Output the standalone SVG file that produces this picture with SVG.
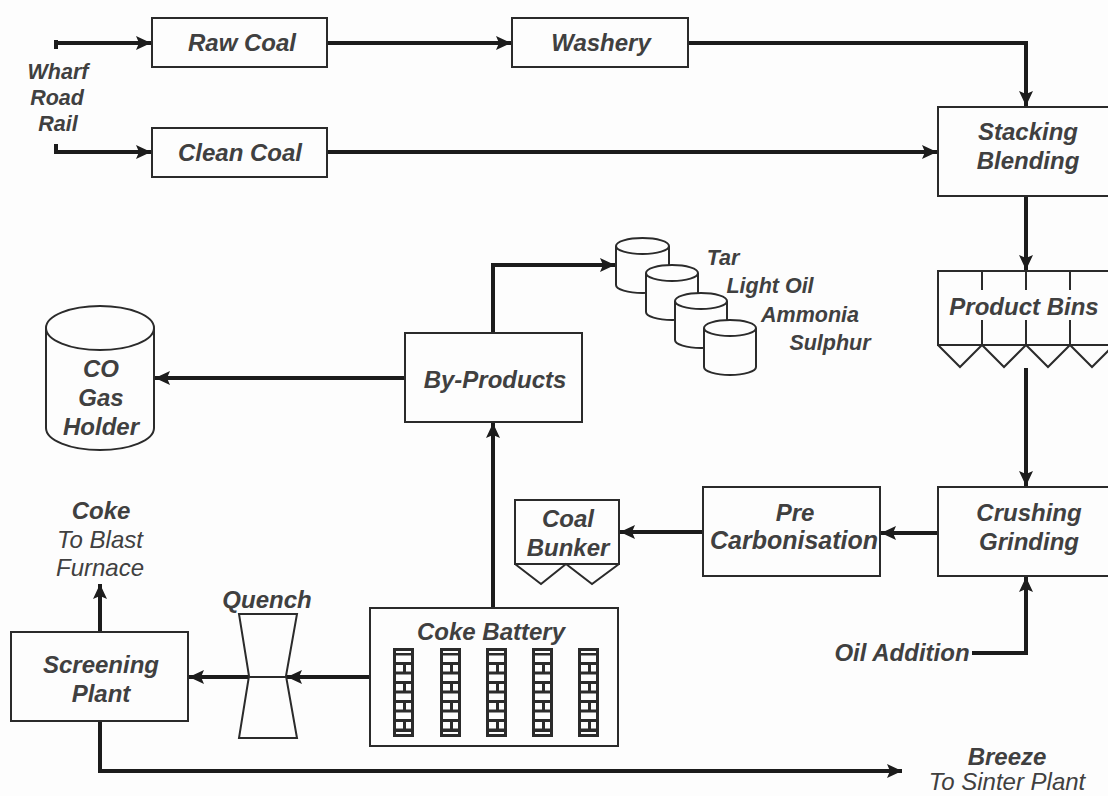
<svg xmlns="http://www.w3.org/2000/svg" width="1108" height="796" viewBox="0 0 1108 796">
<style>
.s{fill:none;stroke:#2b2b2b;stroke-width:2}
.b{fill:#fdfdfd;stroke:#2b2b2b;stroke-width:2}
.c{fill:none;stroke:#1c1c1c;stroke-width:4}
text{font-family:"Liberation Sans",Arial,sans-serif;font-style:italic;font-weight:bold;font-size:24px;fill:#404040;text-anchor:middle}
.sm{font-size:21.500px}
.n{font-weight:normal}
.w{fill:#fdfdfd}
</style>
<defs>
<marker id="a" markerUnits="userSpaceOnUse" markerWidth="16" markerHeight="14" refX="15" refY="7" orient="auto"><path d="M0 0L15 7L0 14L3 7Z" fill="#1c1c1c"/></marker>
<g id="bricks">
<rect width="21" height="89" fill="#2b2b2b"/>
<rect class="w" x="3" y="7.500" width="15" height="6.500"/>
<rect class="w" x="3" y="17" width="7" height="6.500"/><rect class="w" x="13" y="17" width="5" height="6.500"/>
<rect class="w" x="3" y="26.500" width="15" height="6.500"/>
<rect class="w" x="3" y="36" width="7" height="6.500"/><rect class="w" x="13" y="36" width="5" height="6.500"/>
<rect class="w" x="3" y="45.500" width="15" height="6.500"/>
<rect class="w" x="3" y="55" width="7" height="6.500"/><rect class="w" x="13" y="55" width="5" height="6.500"/>
<rect class="w" x="3" y="64.500" width="15" height="6.500"/>
<rect class="w" x="3" y="74" width="7" height="6.500"/><rect class="w" x="13" y="74" width="5" height="6.500"/>
<rect class="w" x="3" y="3" width="15" height="2"/><rect class="w" x="3" y="84" width="15" height="2"/>
</g>
</defs>
<rect width="1108" height="796" fill="#fdfdfd"/>
<g id="connectors">
<path class="c" d="M56 40V49M56 43H151" marker-end="url(#a)"/>
<path class="c" d="M56 144V152H151" marker-end="url(#a)"/>
<path class="c" d="M327 43H511" marker-end="url(#a)"/>
<path class="c" d="M688 43H1026V106" marker-end="url(#a)"/>
<path class="c" d="M327 152H937" marker-end="url(#a)"/>
<path class="c" d="M1026 196V270" marker-end="url(#a)"/>
<path class="c" d="M1026 368V486" marker-end="url(#a)"/>
<path class="c" d="M972 653H1026V577" marker-end="url(#a)"/>
<path class="c" d="M938 533H881" marker-end="url(#a)"/>
<path class="c" d="M703 532H620" marker-end="url(#a)"/>
<path class="c" d="M493 608V423" marker-end="url(#a)"/>
<path class="c" d="M493 333V265H615" marker-end="url(#a)"/>
<path class="c" d="M405 378H155" marker-end="url(#a)"/>
<path class="c" d="M370 677H287" marker-end="url(#a)"/>
<path class="c" d="M249 677H189" marker-end="url(#a)"/>
<path class="c" d="M100 632V584" marker-end="url(#a)"/>
<path class="c" d="M100 721V771H902" marker-end="url(#a)"/>
</g>
<g id="raw-coal"><rect class="b" x="152" y="18" width="175" height="49"/><text x="242" y="51">Raw Coal</text></g>
<g id="washery"><rect class="b" x="512" y="18" width="176" height="49"/><text x="601" y="51">Washery</text></g>
<g id="clean-coal"><rect class="b" x="152" y="128" width="175" height="49"/><text x="240" y="161">Clean Coal</text></g>
<g id="sources"><text class="sm" x="58" y="79">Wharf</text><text class="sm" x="57" y="105">Road</text><text class="sm" x="58" y="131">Rail</text></g>
<g id="stacking"><rect class="b" x="938" y="107" width="171" height="89"/><text x="1028" y="140">Stacking</text><text x="1028" y="169">Blending</text></g>
<g id="product-bins"><path class="s" d="M1109 271H938V345H1109M982 271V290M1026 271V290M1070 271V290M982 320V345M1026 320V345M1070 320V345M938 345L960 367L982 345L1004 367L1026 345L1048 367L1070 345L1092 367L1109 350"/><text x="1024" y="315">Product Bins</text></g>
<g id="crushing"><rect class="b" x="938" y="487" width="171" height="89"/><text x="1029" y="521">Crushing</text><text x="1029" y="550">Grinding</text></g>
<g id="pre-carbonisation"><rect class="b" x="703" y="487" width="177" height="89"/><text x="795" y="521">Pre</text><text style="font-size:25px" x="794" y="549">Carbonisation</text></g>
<g id="coal-bunker"><rect class="b" x="515" y="500" width="104" height="64"/><path class="s" d="M515 564L541 584L566 564L592 584L619 564"/><text x="568" y="527">Coal</text><text x="568" y="556">Bunker</text></g>
<g id="by-products"><rect class="b" x="405" y="333" width="177" height="89"/><text x="495" y="388">By-Products</text></g>
<g id="co-gas-holder"><path class="b" d="M46 328A54 22 0 0 1 154 328V428A54 22 0 0 1 46 428Z"/><path class="s" d="M46 328A54 22 0 0 0 154 328"/><text x="101" y="377">CO</text><text x="101" y="406">Gas</text><text x="101" y="435">Holder</text></g>
<g id="tanks">
<path class="b" d="M616 246A26.500 8 0 0 1 669 246V285A26.500 8 0 0 1 616 285Z"/><path class="s" d="M616 246A26.500 8 0 0 0 669 246"/>
<path class="b" d="M646 273A26 8 0 0 1 698 273V312A26 8 0 0 1 646 312Z"/><path class="s" d="M646 273A26 8 0 0 0 698 273"/>
<path class="b" d="M675 301A26 8 0 0 1 727 301V340A26 8 0 0 1 675 340Z"/><path class="s" d="M675 301A26 8 0 0 0 727 301"/>
<path class="b" d="M704 328A26 8 0 0 1 756 328V367A26 8 0 0 1 704 367Z"/><path class="s" d="M704 328A26 8 0 0 0 756 328"/>
<text class="sm" x="723" y="265">Tar</text><text class="sm" x="770" y="293">Light Oil</text><text class="sm" x="810" y="322">Ammonia</text><text class="sm" x="830" y="350">Sulphur</text></g>
<g id="coke-battery"><rect class="b" x="370" y="608" width="248" height="138"/><text x="491" y="640">Coke Battery</text>
<use href="#bricks" x="393" y="648"/><use href="#bricks" x="440" y="648"/><use href="#bricks" x="486" y="648"/><use href="#bricks" x="532" y="648"/><use href="#bricks" x="578" y="648"/></g>
<g id="quench"><path class="s" d="M239 614H297L286 676L297 738H239L249 676Z"/><path class="s" d="M249 677H287"/><text x="267" y="608">Quench</text></g>
<g id="screening-plant"><rect class="b" x="11" y="632" width="177" height="89"/><text x="101" y="673">Screening</text><text x="101" y="702">Plant</text></g>
<g id="labels">
<text x="101" y="519">Coke</text><text class="n" x="100" y="548">To Blast</text><text class="n" x="100" y="576">Furnace</text>
<text x="902" y="661">Oil Addition</text>
<text x="1007" y="765">Breeze</text><text class="n" x="1007" y="790">To Sinter Plant</text>
</g>
</svg>
